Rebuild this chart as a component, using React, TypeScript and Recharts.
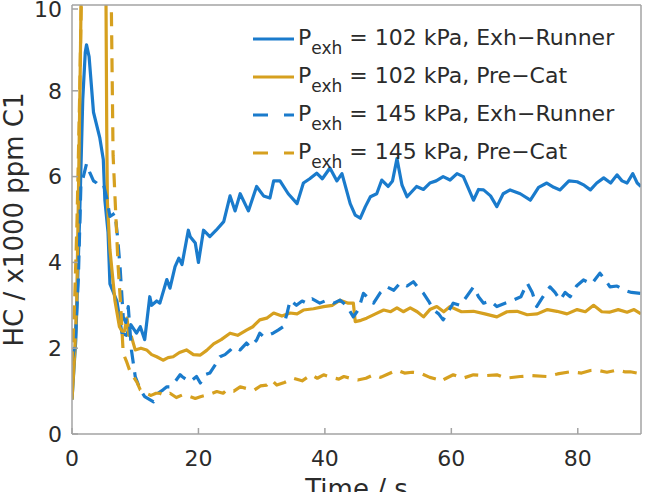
import { LineChart, Line, XAxis, YAxis, Legend } from "recharts";

// HC concentration during cold start — exhaust runner vs. pre-catalyst sampling,
// two exhaust back-pressures. Time in s, HC in x1000 ppm C1.

const BLUE = "#1a7bcc";
const GOLD = "#d6a01f";
const AXIS = "#a3a3a3";
const TEXT = "#2b2b2b";
const FONT = "'DejaVu Sans', sans-serif";
const DASH = "14 9";

const X_TICKS = [0, 20, 40, 60, 80];
const Y_TICKS = [0, 2, 4, 6, 8, 10];

// P_exh = 102 kPa, exhaust runner
const tRunner102 = [
  0, 0.6, 1.2, 1.7, 2.1, 2.3, 2.7, 3.4, 4.4, 4.95, 5.2, 5.7, 6.0, 7.1, 7.9, 8.6, 9.3, 10.2,
  10.8, 11.5, 12.3, 12.6, 13.4, 13.9, 15.0, 15.5, 16.3, 16.9, 17.4, 18.4, 18.7, 19.5, 20.0,
  20.8, 21.8, 22.8, 24.0, 25.0, 25.8, 26.6, 27.9, 29.2, 30.3, 31.3, 31.9, 32.9, 34.2, 35.6,
  36.6, 37.6, 38.7, 39.6, 40.8, 41.9, 42.7, 44.0, 44.8, 45.6, 46.4, 47.2, 48.2, 49.0, 50.0,
  50.7, 51.4, 52.2, 53.0, 54.5, 55.6, 56.6, 57.6, 58.7, 59.8, 60.9, 61.9, 63.5, 64.3, 65.1,
  66.2, 67.2, 68.2, 69.3, 70.9, 72.5, 73.8, 75.1, 76.2, 77.2, 78.6, 79.9, 81.0, 82.0, 83.0,
  84.1, 85.2, 86.2, 87.0, 87.8, 88.7, 89.4, 90,
];
const hcRunner102 = [
  0.8, 2.2, 5.0, 7.8, 8.9, 9.07, 8.8, 7.5, 6.9, 6.4, 5.45, 4.7, 3.5, 3.1, 2.35, 2.3, 2.55, 2.35,
  2.5, 2.2, 3.2, 3.0, 3.1, 3.05, 3.6, 3.4, 3.9, 4.1, 3.95, 4.75, 4.6, 4.45, 4.0,
  4.75, 4.6, 4.75, 4.95, 5.55, 5.2, 5.6, 5.2, 5.77, 5.55, 5.5, 5.9, 5.9, 5.6, 5.37,
  5.85, 5.95, 6.08, 5.95, 6.2, 5.9, 6.07, 5.37, 5.1, 5.03, 5.3, 5.53, 5.6, 5.92, 5.77,
  5.9, 6.42, 5.8, 5.53, 5.77, 5.7, 5.85, 5.9, 6.0, 5.92, 6.07, 6.0, 5.45, 5.7, 5.69,
  5.55, 5.3, 5.6, 5.69, 5.6, 5.45, 5.75, 5.85, 5.75, 5.69, 5.9, 5.88, 5.8, 5.69, 5.85,
  5.97, 5.85, 6.04, 5.9, 5.85, 6.07, 5.85, 5.77,
];

// P_exh = 102 kPa, pre-catalyst
const tPreCat102 = [
  0, 0.4, 0.75, 1.0, 1.3, 1.6, 3.5, 5.3, 5.5, 5.6, 6.0, 6.8, 7.5, 7.9, 8.3, 8.7, 9.0, 9.4, 10.0,
  10.9, 11.8, 12.6, 13.4, 14.4, 15.2, 16.0, 17.0, 18.1, 19.2, 20.3, 21.3, 22.4, 23.6, 25.0,
  26.2, 27.6, 28.6, 29.7, 30.8, 31.9, 33.2, 34.5, 35.6, 36.6, 38.2, 39.8, 41.2, 42.4, 43.7,
  44.5, 44.8, 45.7, 46.6, 48.0, 49.3, 50.4, 51.4, 52.4, 53.5, 54.6, 55.6, 56.6, 57.7, 58.8,
  59.8, 61.6, 63.5, 65.3, 67.2, 68.8, 70.4, 72.0, 73.6, 75.2, 76.7, 78.3, 79.9, 81.2, 82.5,
  83.8, 85.0, 86.4, 87.8, 88.9, 90,
];
const hcPreCat102 = [
  0.8, 1.8, 3.1, 5.4, 8.5, 12, 14, 12, 7.0, 5.4, 4.3, 3.1, 2.5, 2.4, 2.4, 2.7, 2.3, 2.27, 1.96,
  2.0, 1.96, 1.85, 1.8, 1.72, 1.78, 1.8, 1.9, 1.96, 1.85, 1.84, 1.95, 2.1, 2.2, 2.35,
  2.3, 2.42, 2.5, 2.66, 2.7, 2.82, 2.75, 2.82, 2.8, 2.89, 2.92, 2.97, 3.0, 3.12, 3.05,
  3.05, 2.62, 2.65, 2.7, 2.8, 2.89, 2.85, 2.94, 2.85, 2.94, 2.85, 2.73, 2.9, 2.97, 2.85,
  2.97, 2.85, 2.86, 2.8, 2.73, 2.85, 2.86, 2.78, 2.8, 2.9, 2.86, 2.8, 2.9, 2.85, 3.0,
  2.85, 2.84, 2.9, 2.84, 2.9, 2.8,
];

// P_exh = 145 kPa, exhaust runner
const tRunner145 = [
  0, 0.5, 1.0, 1.4, 1.8, 2.3, 2.8, 3.4, 3.9, 4.4, 5.0, 5.5, 6.0, 6.8, 7.2, 7.6, 8.1, 8.5, 8.9,
  9.4, 10.0, 10.8, 11.5, 12.3, 12.9, 13.6, 14.4, 15.0, 15.5, 16.2, 17.1, 17.4, 18.0, 18.7,
  19.7, 20.3, 21.0, 21.8, 22.6, 23.4, 24.2, 25.0, 25.5, 26.6, 27.6, 28.2, 29.2, 29.7, 30.3,
  31.0, 31.8, 32.6, 33.4, 34.0, 34.5, 35.5, 36.4, 37.1, 38.0, 39.2, 40.3, 41.4, 42.4, 43.4,
  44.5, 45.3, 46.1, 47.0, 47.7, 48.8, 49.8, 50.9, 51.9, 53.0, 54.0, 54.8, 55.6, 56.4, 57.2,
  58.0, 58.7, 59.5, 60.3, 61.4, 62.4, 63.5, 64.3, 65.1, 66.2, 67.2, 68.5, 69.8, 71.0, 72.0,
  72.8, 73.5, 74.5, 75.6, 76.4, 77.2, 78.0, 78.8, 79.8, 80.9, 82.2, 83.5, 84.3, 85.1, 86.2,
  87.2, 88.5, 89.9,
];
const hcRunner145 = [
  1.7, 2.1, 3.6, 5.77, 6.0, 6.3, 6.1, 5.9, 5.85, 5.77, 5.8, 5.5, 5.07, 5.15, 4.6, 3.9, 2.73, 2.6, 2.97,
  1.96, 1.34, 1.03, 0.87, 0.8, 0.75, 0.95, 1.03, 1.1, 1.1, 1.2, 1.38, 1.34, 1.28, 1.22,
  1.34, 1.19, 1.38, 1.42, 1.6, 1.8, 1.85, 1.95, 2.03, 1.96, 2.12, 2.03, 2.19, 2.35, 2.27,
  2.3, 2.35, 2.42, 2.5, 2.8, 3.12, 3.0, 3.1, 3.05, 3.15, 3.05, 3.12, 3.05, 3.12, 3.0,
  2.73, 2.9, 3.28, 3.15, 3.05, 3.3, 3.43, 3.35, 3.52, 3.45, 3.55, 3.4, 3.28, 3.1, 2.89,
  2.8, 2.66, 2.85, 3.05, 3.0, 3.2, 3.43, 3.2, 3.05, 3.1, 2.97, 3.05, 3.12, 3.2, 3.52,
  3.3, 2.97, 3.2, 3.43, 3.3, 3.12, 3.3, 3.2, 3.45, 3.59, 3.5, 3.75, 3.6, 3.43, 3.45,
  3.36, 3.3, 3.28,
];

// P_exh = 145 kPa, pre-catalyst
const tPreCat145 = [
  0, 0.4, 0.8, 1.2, 1.7, 3.5, 6.1, 6.5, 6.9, 7.3, 7.7, 8.1, 8.6, 9.2, 9.7, 10.3, 10.8, 11.6,
  12.5, 13.3, 13.9, 14.7, 15.5, 16.5, 17.6, 18.7, 19.5, 20.3, 21.6, 22.9, 23.9, 24.5, 25.6,
  26.6, 27.6, 28.8, 29.8, 30.8, 31.6, 32.4, 33.6, 35.0, 36.4, 37.8, 38.8, 39.8, 41.0, 42.2,
  43.0, 44.0, 45.2, 46.5, 47.7, 48.8, 50.0, 51.4, 52.6, 53.8, 55.1, 56.6, 57.6, 58.2, 59.2,
  60.3, 61.8, 63.5, 65.3, 67.2, 68.6, 70.9, 72.8, 75.1, 76.8, 78.8, 80.6, 82.0, 83.0, 84.6,
  86.2, 87.4, 88.3, 89.4,
];
const hcPreCat145 = [
  1.6, 3.0, 5.0, 7.8, 12, 14, 11.5, 6.5, 5.2, 3.9, 3.0, 1.88, 1.7, 1.45, 1.34, 1.2, 1.03, 0.95,
  0.9, 0.95, 0.95, 0.9, 0.95, 0.85, 0.92, 0.87, 0.83, 0.87, 0.92, 0.99, 0.95, 1.03, 1.0,
  1.1, 1.06, 1.02, 1.12, 1.14, 1.25, 1.14, 1.2, 1.3, 1.24, 1.38, 1.3, 1.38, 1.32, 1.28,
  1.34, 1.3, 1.26, 1.3, 1.38, 1.32, 1.4, 1.49, 1.42, 1.44, 1.42, 1.32, 1.28, 1.22, 1.3,
  1.38, 1.3, 1.38, 1.36, 1.38, 1.3, 1.34, 1.36, 1.34, 1.4, 1.45, 1.42, 1.48, 1.49, 1.44,
  1.49, 1.45, 1.45, 1.42,
];

const toSeries = (t: number[], hc: number[]) => t.map((x, i) => ({ t: x, hc: hc[i] }));

const SERIES = [
  { key: "r102", pressure: "102", site: "Exh\u2212Runner", color: BLUE, dash: undefined, data: toSeries(tRunner102, hcRunner102) },
  { key: "p102", pressure: "102", site: "Pre\u2212Cat", color: GOLD, dash: undefined, data: toSeries(tPreCat102, hcPreCat102) },
  { key: "r145", pressure: "145", site: "Exh\u2212Runner", color: BLUE, dash: DASH, data: toSeries(tRunner145, hcRunner145) },
  { key: "p145", pressure: "145", site: "Pre\u2212Cat", color: GOLD, dash: DASH, data: toSeries(tPreCat145, hcPreCat145) },
];

// MATLAB-style legend: short line sample + "P_exh = ... kPa, site"
function PressureLegend() {
  return (
    <svg width={400} height={160} style={{ display: "block", overflow: "visible" }}>
      {SERIES.map((s, i) => (
        <g key={s.key} transform={`translate(0, ${38 * i})`}>
          <line x1={3} x2={44} y1={21} y2={21} stroke={s.color} strokeWidth={3}
            strokeDasharray={s.dash ? "15 16" : undefined} />
          <text x={48} y={27} fill={TEXT} fontFamily={FONT} fontSize={22}>
            P
            <tspan fontSize={17} dy={9}>exh</tspan>
            <tspan dy={-9}>{` = ${s.pressure} kPa, ${s.site}`}</tspan>
          </text>
        </g>
      ))}
    </svg>
  );
}

function YTitle({ viewBox }: any) {
  const cx = viewBox.x + 23;
  const cy = viewBox.y + viewBox.height / 2;
  return (
    <text x={cx} y={cy} transform={`rotate(-90, ${cx}, ${cy})`} textAnchor="middle"
      fill={TEXT} fontFamily={FONT} fontSize={26}>
      HC / x1000 ppm C1
    </text>
  );
}

function XTitle({ viewBox }: any) {
  return (
    <text x={viewBox.x + viewBox.width / 2} y={498} textAnchor="middle"
      fill={TEXT} fontFamily={FONT} fontSize={26}>
      Time / s
    </text>
  );
}

// Inward-pointing tick mark (MATLAB box style) plus optional label.
// With tickSize 0 the axis line sits `gap` px from the label anchor.
const TICK_LEN = 6;
function BoxTick({ x, y, payload, side, gap = 0, label = false }: any) {
  let line;
  let text = null;
  if (side === "bottom") {
    const ay = y - gap;
    line = <line x1={x} x2={x} y1={ay} y2={ay - TICK_LEN} />;
    if (label) text = <text x={x} y={y} dy="0.71em" textAnchor="middle">{payload.value}</text>;
  } else if (side === "left") {
    const ax = x + gap;
    line = <line x1={ax} x2={ax + TICK_LEN} y1={y} y2={y} />;
    if (label) text = <text x={x} y={y} dy="0.355em" textAnchor="end">{payload.value}</text>;
  } else if (side === "top") {
    line = <line x1={x} x2={x} y1={y} y2={y + TICK_LEN} />;
  } else {
    line = <line x1={x} x2={x - TICK_LEN} y1={y} y2={y} />;
  }
  return (
    <g>
      <g stroke={AXIS} strokeWidth={1.5}>{line}</g>
      <g fill={TEXT} fontFamily={FONT} fontSize={22}>{text}</g>
    </g>
  );
}

export default function App() {
  return (
    <div style={{ position: "absolute", left: 0, top: 0, background: "#fff" }}>
      <LineChart width={652} height={492} margin={{ top: 4, right: 10, bottom: 0, left: 0 }}>
        <XAxis dataKey="t" type="number" domain={[0, 90]} ticks={X_TICKS} allowDataOverflow
          height={58} tickLine={false} tickSize={0} tickMargin={16}
          tick={<BoxTick side="bottom" gap={16} label />}
          stroke={AXIS} strokeWidth={1.5} label={<XTitle />} />
        <XAxis xAxisId="top" orientation="top" dataKey="t" type="number" domain={[0, 90]}
          ticks={X_TICKS} height={1} tickLine={false} tickSize={0} tickMargin={0}
          tick={<BoxTick side="top" />} stroke={AXIS} strokeWidth={1.5} />
        <YAxis type="number" domain={[0, 10]} ticks={Y_TICKS} allowDataOverflow width={72}
          tickLine={false} tickSize={0} tickMargin={10}
          tick={<BoxTick side="left" gap={10} label />}
          stroke={AXIS} strokeWidth={1.5} label={<YTitle />} />
        <YAxis yAxisId="right" orientation="right" type="number" domain={[0, 10]}
          ticks={Y_TICKS} width={1} tickLine={false} tickSize={0} tickMargin={0}
          tick={<BoxTick side="right" />} stroke={AXIS} strokeWidth={1.5} />

        <Legend layout="vertical" align="center" verticalAlign="middle"
          content={<PressureLegend />}
          wrapperStyle={{ position: "absolute", left: 250, top: 18, width: 400, height: 160 }} />

        {SERIES.map((s) => (
          <Line key={s.key} data={s.data} dataKey="hc" type="linear" stroke={s.color}
            strokeWidth={3.2} strokeDasharray={s.dash} strokeLinejoin="round" dot={false}
            activeDot={false} isAnimationActive={false} />
        ))}
      </LineChart>
    </div>
  );
}
